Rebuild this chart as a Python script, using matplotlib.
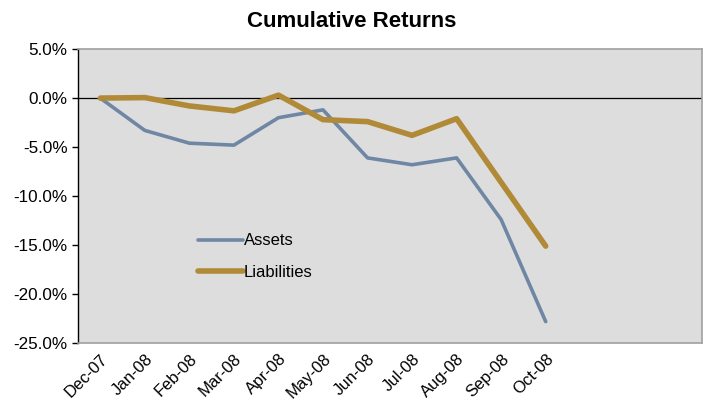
import matplotlib.pyplot as plt
from matplotlib.ticker import PercentFormatter

plt.rcParams['font.family'] = ['Liberation Sans', 'DejaVu Sans']
plt.rcParams['axes.unicode_minus'] = False

# Month-end labels (axis has room for 14 categories, only 11 are filled)
months = ["Dec-07", "Jan-08", "Feb-08", "Mar-08", "Apr-08", "May-08",
          "Jun-08", "Jul-08", "Aug-08", "Sep-08", "Oct-08"]
n_slots = 14

# Cumulative returns in percent
assets = [0.0, -3.3, -4.6, -4.8, -2.0, -1.2, -6.1, -6.8, -6.1, -12.4, -22.8]
liabilities = [0.0, 0.05, -0.8, -1.3, 0.3, -2.2, -2.4, -3.8, -2.1, -8.6, -15.1]

fig = plt.figure(figsize=(7.03, 4.09), dpi=100)
ax = fig.add_axes([0.111, 0.161, 0.887, 0.719])
ax.set_facecolor("#DDDDDD")

x = list(range(len(months)))
ax.plot(x, assets, color="#6F87A4", linewidth=2.6, label="Assets",
        solid_capstyle="round", solid_joinstyle="round")
ax.plot(x, liabilities, color="#B08A37", linewidth=4.0, label="Liabilities",
        solid_capstyle="round", solid_joinstyle="round")
ax.axhline(0, color="black", linewidth=0.9, zorder=1)

ax.set_xlim(-0.5, n_slots - 0.5)
ax.set_ylim(-25, 5)
ax.set_yticks([5, 0, -5, -10, -15, -20, -25])
ax.yaxis.set_major_formatter(PercentFormatter(decimals=1))
ax.set_xticks(x)
ax.set_xticklabels(months, rotation=45, ha="right", rotation_mode="anchor")
ax.tick_params(axis="x", length=0, pad=6, labelsize=12)
ax.tick_params(axis="y", length=4, width=1, direction="out", labelsize=12.3)

for side in ["top", "right", "bottom"]:
    ax.spines[side].set_color("#A0A0A0")
    ax.spines[side].set_linewidth(1.2)
ax.spines["left"].set_color("black")
ax.spines["left"].set_linewidth(1)

ax.legend(loc="upper left", bbox_to_anchor=(0.192, 0.373), frameon=False,
          fontsize=12, handlelength=2.7, handletextpad=0.05,
          labelspacing=1.0, borderpad=0, borderaxespad=0)

fig.text(0.5, 0.948, "Cumulative Returns", ha="center", va="center",
         fontsize=16, fontweight="bold")

fig.savefig("out.png", dpi=100)
